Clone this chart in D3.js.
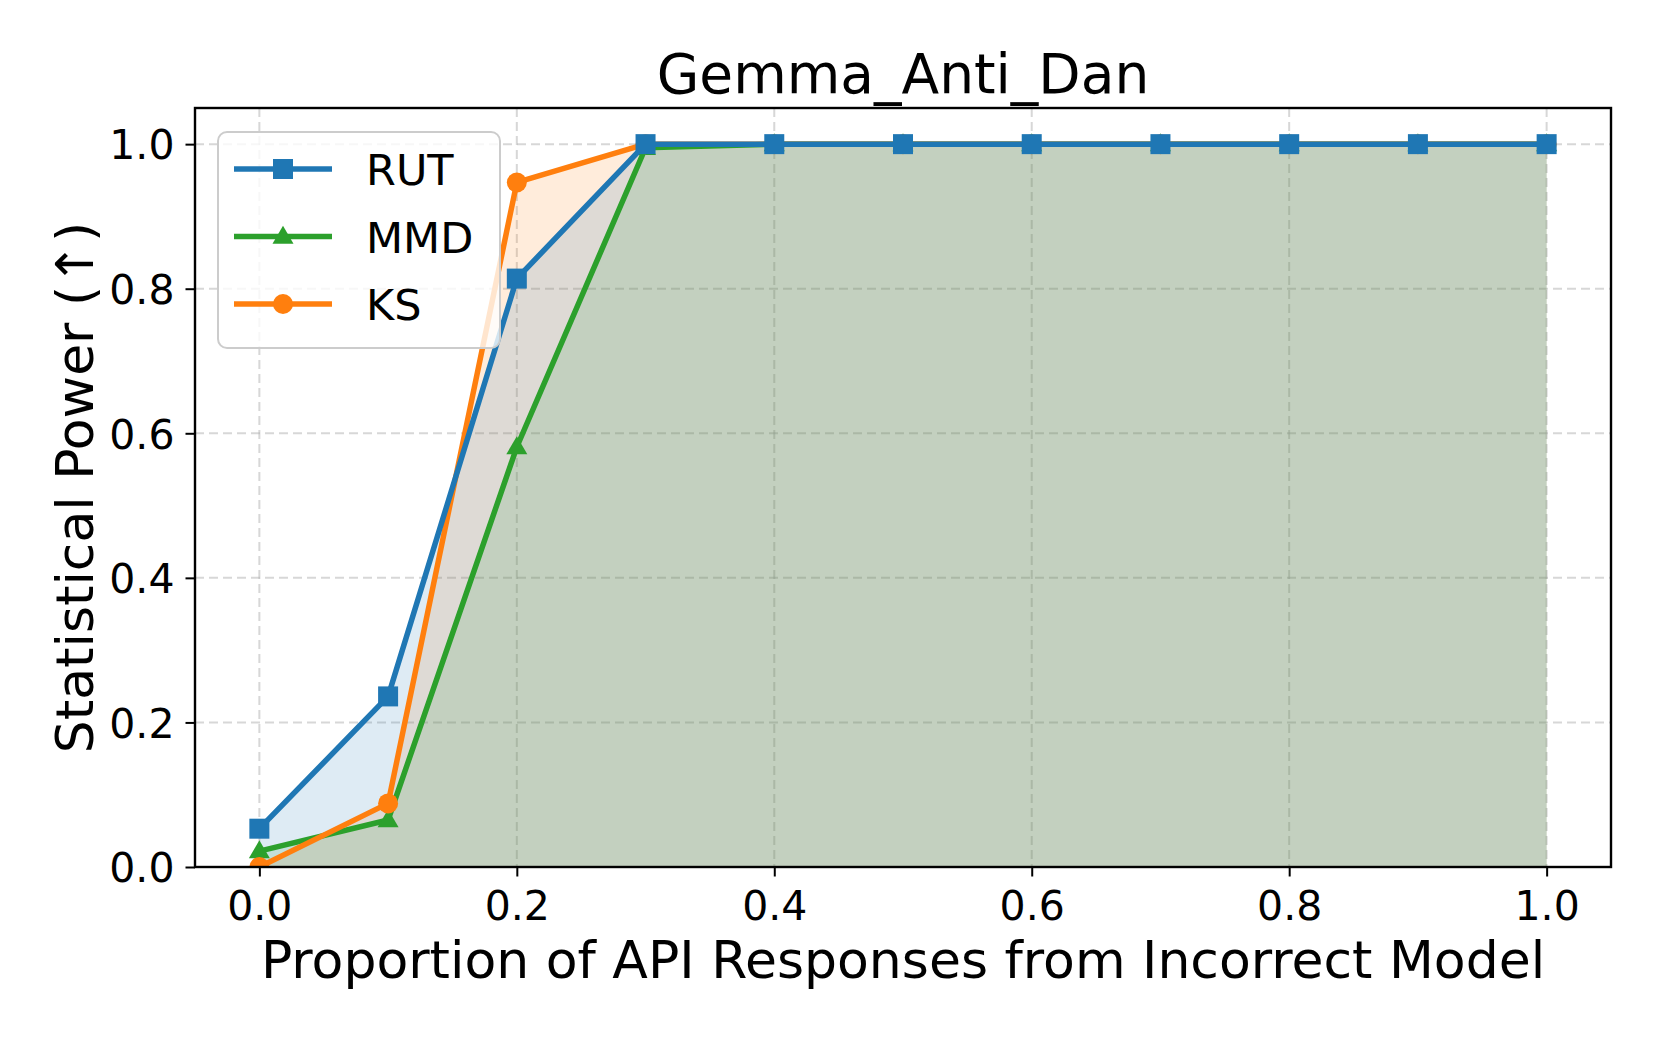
<!DOCTYPE html>
<html>
<head>
<meta charset="utf-8">
<script src="https://cdn.jsdelivr.net/npm/d3@7"></script>
<style>
  body { margin: 0; background: #fff; }
  text { font-family: "DejaVu Sans", sans-serif; fill: #000; }
</style>
</head>
<body>
<svg id="chart" width="1661" height="1038"></svg>
<script>
// data
const proportions = [0.0, 0.1, 0.2, 0.3, 0.4, 0.5, 0.6, 0.7, 0.8, 0.9, 1.0];
const rutPower = [0.053, 0.236, 0.814, 1.0, 1.0, 1.0, 1.0, 1.0, 1.0, 1.0, 1.0];
const mmdPower = [0.022, 0.065, 0.581, 0.995, 1.0, 1.0, 1.0, 1.0, 1.0, 1.0, 1.0];
const ksPower = [0.0, 0.088, 0.947, 1.0, 1.0, 1.0, 1.0, 1.0, 1.0, 1.0, 1.0];
const xTicks = [0.0, 0.2, 0.4, 0.6, 0.8, 1.0];
const yTicks = [0.0, 0.2, 0.4, 0.6, 0.8, 1.0];

const series = [
  { name: 'RUT', values: rutPower, color: '#1f77b4', marker: 'square' },
  { name: 'MMD', values: mmdPower, color: '#2ca02c', marker: 'triangle' },
  { name: 'KS', values: ksPower, color: '#ff7f0e', marker: 'circle' }
];

const svg = d3.select('#chart');
const plot = { left: 195, right: 1611, top: 108, bottom: 867 };

const x = d3.scaleLinear().domain([-0.05, 1.05]).range([plot.left, plot.right]);
const y = d3.scaleLinear().domain([0, 1.05]).range([plot.bottom, plot.top]);

svg.append('rect').attr('width', 1661).attr('height', 1038).attr('fill', '#fff');

// clip for the plot area
svg.append('defs').append('clipPath').attr('id', 'plotClip')
  .append('rect')
  .attr('x', plot.left).attr('y', plot.top)
  .attr('width', plot.right - plot.left).attr('height', plot.bottom - plot.top);

// grid
const grid = svg.append('g').attr('clip-path', 'url(#plotClip)');
grid.selectAll('.vgrid').data(xTicks).join('line')
  .attr('x1', d => x(d)).attr('x2', d => x(d))
  .attr('y1', plot.top).attr('y2', plot.bottom)
  .attr('stroke', '#b0b0b0').attr('stroke-opacity', 0.5)
  .attr('stroke-width', 2).attr('stroke-dasharray', '9,5');
grid.selectAll('.hgrid').data(yTicks).join('line')
  .attr('y1', d => y(d)).attr('y2', d => y(d))
  .attr('x1', plot.left).attr('x2', plot.right)
  .attr('stroke', '#b0b0b0').attr('stroke-opacity', 0.5)
  .attr('stroke-width', 2).attr('stroke-dasharray', '9,5');

const plotArea = svg.append('g').attr('clip-path', 'url(#plotClip)');

// fills under each curve (KS first, RUT last, gives the greyish green overlap)
const area = d3.area()
  .x((d, i) => x(proportions[i]))
  .y0(y(0))
  .y1(d => y(d));

const fillOrder = [series[2], series[1], series[0]];
plotArea.selectAll('.fill').data(fillOrder).join('path')
  .attr('d', s => area(s.values))
  .attr('fill', s => s.color)
  .attr('fill-opacity', 0.15);

const line = d3.line()
  .x((d, i) => x(proportions[i]))
  .y(d => y(d));

const markerPath = (type, size) => {
  if (type === 'square') return d3.symbol(d3.symbolSquare, size * size)();
  if (type === 'circle') return d3.symbol(d3.symbolCircle, Math.PI * size * size / 4)();
  // triangle pointing up, base width ~ size
  const h = size * 0.9, w = size * 1.05;
  return `M0,${-h * 0.6}L${w / 2},${h * 0.4}L${-w / 2},${h * 0.4}Z`;
};

// lines drawn so RUT ends up on top
const drawOrder = [series[1], series[2], series[0]];
drawOrder.forEach(s => {
  const g = plotArea.append('g');
  g.append('path')
    .attr('d', line(s.values))
    .attr('fill', 'none')
    .attr('stroke', s.color)
    .attr('stroke-width', 5.5)
    .attr('stroke-linejoin', 'round');
  g.selectAll('.mk').data(s.values).join('path')
    .attr('transform', (d, i) => `translate(${x(proportions[i])},${y(d)})`)
    .attr('d', markerPath(s.marker, 20))
    .attr('fill', s.color);
});

// axes
const xAxis = svg.append('g')
  .attr('transform', `translate(0,${plot.bottom})`)
  .call(d3.axisBottom(x).tickValues(xTicks).tickFormat(d3.format('.1f')).tickSize(9.5).tickPadding(12));
const yAxis = svg.append('g')
  .attr('transform', `translate(${plot.left},0)`)
  .call(d3.axisLeft(y).tickValues(yTicks).tickFormat(d3.format('.1f')).tickSize(9.5).tickPadding(11));

[xAxis, yAxis].forEach(a => {
  a.select('.domain').remove();
  a.selectAll('.tick line').attr('stroke', '#000').attr('stroke-width', 2);
  a.selectAll('.tick text').style('font-size', '41px').style('font-family', '"DejaVu Sans", sans-serif');
});
xAxis.selectAll('.tick text').attr('dy', '0.76em');
yAxis.selectAll('.tick text').attr('dy', '0.36em');

// spines
svg.append('rect')
  .attr('x', plot.left).attr('y', plot.top)
  .attr('width', plot.right - plot.left).attr('height', plot.bottom - plot.top)
  .attr('fill', 'none').attr('stroke', '#000').attr('stroke-width', 2.4);

// title and labels
svg.append('text')
  .attr('x', (plot.left + plot.right) / 2).attr('y', 93)
  .attr('text-anchor', 'middle')
  .style('font-size', '55px')
  .text('Gemma_Anti_Dan');

svg.append('text')
  .attr('x', (plot.left + plot.right) / 2).attr('y', 978)
  .attr('text-anchor', 'middle')
  .style('font-size', '52px')
  .text('Proportion of API Responses from Incorrect Model');

svg.append('text')
  .attr('transform', `translate(93,${(plot.top + plot.bottom) / 2}) rotate(-90)`)
  .attr('text-anchor', 'middle')
  .style('font-size', '52px')
  .text('Statistical Power (\u2191)');

// legend
const legend = svg.append('g');
legend.append('rect')
  .attr('x', 218).attr('y', 132)
  .attr('width', 282).attr('height', 216)
  .attr('rx', 9)
  .attr('fill', '#fff').attr('fill-opacity', 0.8)
  .attr('stroke', '#cccccc').attr('stroke-width', 2);

series.forEach((s, i) => {
  const cy = 169 + i * 67.5;
  legend.append('line')
    .attr('x1', 234).attr('x2', 332)
    .attr('y1', cy).attr('y2', cy)
    .attr('stroke', s.color).attr('stroke-width', 5.5);
  legend.append('path')
    .attr('transform', `translate(283,${cy})`)
    .attr('d', markerPath(s.marker, 20))
    .attr('fill', s.color);
  legend.append('text')
    .attr('x', 366).attr('y', cy + 16)
    .style('font-size', '43px')
    .text(s.name);
});
</script>
</body>
</html>
